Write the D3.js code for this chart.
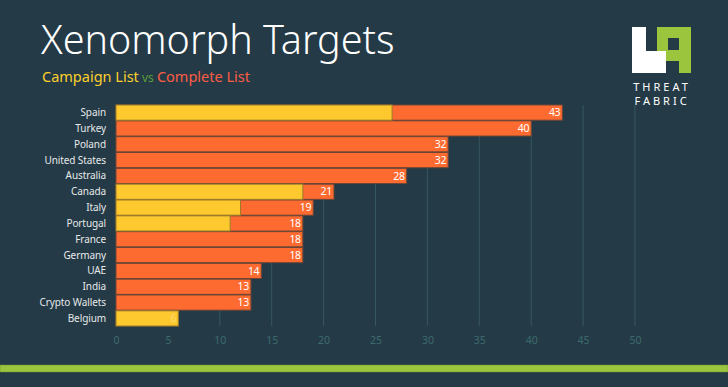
<!DOCTYPE html>
<html>
<head>
<meta charset="utf-8">
<script src="https://cdn.jsdelivr.net/npm/d3@7"></script>
<style>
  html, body { margin: 0; padding: 0; background: #243a46; }
  svg { display: block; }
</style>
</head>
<body>
<div id="chart"></div>
<script>
// Chart data
const categories = ["Spain", "Turkey", "Poland", "United States", "Australia", "Canada", "Italy",
    "Portugal", "France", "Germany", "UAE", "India", "Crypto Wallets", "Belgium"];
const completeList = [43, 40, 32, 32, 28, 21, 19, 18, 18, 18, 14, 13, 13, 6];
const campaignList = [26.6, 0, 0, 0, 0, 18, 12, 11, 0, 0, 0, 0, 0, 6];
const xTicks = [0, 5, 10, 15, 20, 25, 30, 35, 40, 45, 50];

const rows = categories.map((name, i) => ({
    name,
    complete: completeList[i],
    campaign: campaignList[i]
}));

const width = 728, height = 387;
const font = "'Noto Sans', 'Open Sans', sans-serif";

const svg = d3.select("#chart")
    .append("svg")
    .attr("width", width)
    .attr("height", height);

svg.append("rect")
    .attr("width", width)
    .attr("height", height)
    .attr("fill", "#243a46");

// Scales
const x = d3.scaleLinear()
    .domain([0, 50])
    .range([116, 635]);

const y = d3.scaleBand()
    .domain(categories)
    .range([105, 326])
    .paddingInner(0.04);

// Vertical grid lines
svg.append("g")
    .selectAll("line")
    .data(xTicks.slice(1))
    .join("line")
    .attr("x1", d => x(d))
    .attr("x2", d => x(d))
    .attr("y1", 105)
    .attr("y2", 326)
    .attr("stroke", "#37575e")
    .attr("stroke-width", 1);

// Bottom axis, labels only
const xAxis = svg.append("g")
    .attr("transform", "translate(0,335)")
    .call(d3.axisBottom(x).tickValues(xTicks).tickSize(0).tickPadding(2));
xAxis.select(".domain").remove();
xAxis.selectAll("text")
    .attr("fill", "#3c6a6d")
    .style("font-family", font)
    .style("font-size", "10.5px");

// Complete list bars
svg.append("g")
    .selectAll("rect")
    .data(rows)
    .join("rect")
    .attr("x", x(0))
    .attr("y", d => y(d.name))
    .attr("width", d => x(d.complete) - x(0))
    .attr("height", y.bandwidth())
    .attr("fill", "#fe6b30")
    .attr("stroke", "#6e4636")
    .attr("stroke-width", 1);

// Campaign list bars
svg.append("g")
    .selectAll("rect")
    .data(rows.filter(d => d.campaign > 0))
    .join("rect")
    .attr("x", x(0))
    .attr("y", d => y(d.name))
    .attr("width", d => x(d.campaign) - x(0))
    .attr("height", y.bandwidth())
    .attr("fill", "#fec82f")
    .attr("stroke", "#9a7a2a")
    .attr("stroke-width", 1);

// Value labels
svg.append("g")
    .selectAll("text")
    .data(rows)
    .join("text")
    .attr("x", d => x(d.complete) - 2)
    .attr("y", d => y(d.name) + y.bandwidth() / 2)
    .attr("dy", "0.35em")
    .attr("text-anchor", "end")
    .attr("fill", d => d.campaign >= d.complete ? "#fedc6e" : "#ffffff")
    .style("font-family", font)
    .style("font-size", "10.5px")
    .style("letter-spacing", "-0.3px")
    .text(d => d.complete);

// Category labels
svg.append("g")
    .selectAll("text")
    .data(rows)
    .join("text")
    .attr("x", 106)
    .attr("y", d => y(d.name) + y.bandwidth() / 2)
    .attr("dy", "0.35em")
    .attr("text-anchor", "end")
    .attr("fill", "#e6e9ea")
    .style("font-family", font)
    .style("font-size", "10px")
    .style("letter-spacing", "-0.1px")
    .text(d => d.name);

// Title
svg.append("text")
    .attr("x", 41)
    .attr("y", 54)
    .attr("fill", "#ffffff")
    .style("font-family", font)
    .style("font-weight", 300)
    .style("font-size", "39.5px")
    .text("Xenomorph Targets");

// Subtitle
const sub = svg.append("text")
    .attr("x", 42)
    .attr("y", 82)
    .style("font-family", font)
    .style("font-size", "14.5px");
sub.append("tspan").attr("fill", "#fdd02c").text("Campaign List");
sub.append("tspan").attr("fill", "#5c9a3c").style("font-size", "12px").text(" vs ");
sub.append("tspan").attr("fill", "#fb5d45").text("Complete List");

// Logo
const logo = svg.append("g");
logo.append("path")
    .attr("fill", "#9bc53c")
    .attr("fill-rule", "evenodd")
    .attr("d", "M657,27H691V73H679V61H666V73H657Z M668,38V50H679V38Z");
logo.append("path")
    .attr("fill", "#ffffff")
    .attr("d", "M632,27H646V51H666V73H632Z");
logo.append("text")
    .attr("x", 662)
    .attr("y", 91)
    .attr("text-anchor", "middle")
    .attr("fill", "#ffffff")
    .style("font-family", font)
    .style("font-size", "11px")
    .style("letter-spacing", "3px")
    .text("THREAT");
logo.append("text")
    .attr("x", 662)
    .attr("y", 105)
    .attr("text-anchor", "middle")
    .attr("fill", "#ffffff")
    .style("font-family", font)
    .style("font-size", "11px")
    .style("letter-spacing", "3px")
    .text("FABRIC");

// Green stripe at the bottom
svg.append("rect")
    .attr("x", 0)
    .attr("y", 365)
    .attr("width", width)
    .attr("height", 7)
    .attr("fill", "#9bc53c")
    .attr("stroke", "#6f8f3a")
    .attr("stroke-width", 0.5);
</script>
</body>
</html>
